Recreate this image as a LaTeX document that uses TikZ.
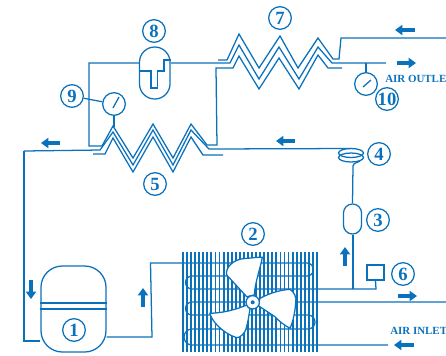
\documentclass[tikz,border=0pt]{standalone}
\usepackage{xcolor}
\usepackage{fontspec}
\setmainfont{Liberation Serif}
\usetikzlibrary{arrows.meta}
\definecolor{pipeblue}{RGB}{10,114,188}
\begin{document}
\begin{tikzpicture}[x=0.75pt, y=-0.75pt, line join=miter,
      pipe/.style={draw=pipeblue, line width=0.95pt},
      fin/.style={draw=pipeblue, line width=1.4pt},
      tag/.style={draw=pipeblue, line width=0.95pt, circle, inner sep=0pt, minimum size=17pt, text=pipeblue, font=\fontsize{14}{14}\selectfont\bfseries},
      dial/.style={draw=pipeblue, line width=0.95pt, circle, inner sep=0pt, minimum size=17pt},
      vessel/.style={draw=pipeblue, line width=0.95pt, rectangle, inner sep=0pt},
      flow/.style={pipeblue, line width=3pt, -{Triangle[length=5.5pt, width=7.5pt]}},
      airtext/.style={text=pipeblue, inner sep=0pt, anchor=west, font=\fontsize{8.2}{8.2}\selectfont\bfseries}]
    \useasboundingbox (0,0) rectangle (446,355);

    \foreach \i in {0,...,33} {
      \draw[fin] ({183+\i*4.06},252) -- ({183+\i*4.06},352);
    }
    \coordinate (coilin) at (183,263);
    \coordinate (tube6) at (353,289);
    \draw[pipe] (coilin) -- (307,263) arc[start angle=-90, end angle=90, radius=6.5] -- (192,276)
      arc[start angle=270, end angle=90, radius=6.5] -- (tube6);
    \draw[pipe] (446,302) -- (192,302) arc[start angle=270, end angle=90, radius=6.5] -- (308,315)
      arc[start angle=-90, end angle=90, radius=7] -- (192,329) arc[start angle=270, end angle=90, radius=8] -- (388,345);

    \draw[pipe, fill=white] (246.7,296.7) -- (226.7,275) .. controls (225,268) and (233,259) .. (245,258.5)
      .. controls (252,258) and (258,257) .. (262.3,257.3) .. controls (261,266) and (255,282) .. (254.3,295) -- cycle;
    \draw[pipe, fill=white] (260,298.3) .. controls (270,293) and (280,290) .. (290,289.3) .. controls (294,292) and (297,297) .. (295.7,303)
      .. controls (295,312) and (293,322) .. (290,328.3) .. controls (284,325) and (280,322) .. (275,316.7) -- (258.3,305.7) -- cycle;
    \draw[pipe, fill=white] (246.7,305) .. controls (235,310) and (222,313) .. (210,313.3) .. controls (211,320) and (222,333) .. (236.7,337.7)
      .. controls (240,338) and (245,333) .. (246,329) .. controls (248,322) and (249,315) .. (250,309) -- cycle;
    \node[dial, fill=white, minimum size=10pt] (hub) at (252.7,302.3) {};
    \fill[pipeblue] (hub.center) circle[radius=2];

    \node[vessel, minimum width=48.75pt, minimum height=64.5pt, rounded corners=16pt] (comp) at (73.5,309) {};
    \draw[pipe] (comp.west |- 0,303) -- (comp.east |- 0,303);
    \draw[pipe] (comp.west |- 0,309) -- (comp.east |- 0,309);
    \node[vessel, minimum width=22.9pt, minimum height=39pt, rounded corners=11.4pt] (drum) at (154.75,73) {};
    \draw[pipe] (drum.west |- 0,71) -- (151,71) -- (151,88) -- (157.5,88) -- (157.5,71) -- (164,71) -- (164,60) -- (drum.east |- 0,60);
    \node[vessel, minimum width=13.5pt, minimum height=22.5pt, rounded corners=6.7pt] (recv) at (352.5,219) {};
    \node[vessel, minimum width=12.75pt, minimum height=11.25pt] (switch) at (375.5,272.5) {};

    \node[dial] (gaugeL) at (114,104) {};
    \node[dial] (gaugeR) at (366,84) {};
    \draw[pipe] (113,108) -- (119,97);
    \draw[pipe] (363,87) -- (371,80);

    \draw[pipe] (351,153) ellipse[x radius=12.5, y radius=4.5];
    \draw[pipe] (351,157.5) ellipse[x radius=12.5, y radius=4.5];

    \draw[pipe] (gaugeL.south) -- (114,127);
    \draw[pipe] (gaugeR.north) -- (366,63);
    \draw[pipe] (tube6) -- (tube6 |- recv.south);
    \draw[pipe] (recv.north) -- (353,166) .. controls (353,163) and (358,162.5) .. (360,161);
    \draw[pipe] (tube6) -- (376,289) -- (switch.south);

    \draw[pipe] (drum.west |- 0,63) -- (89,63) -- (89,146) -- (102,146) -- (113,126) -- (133,158) -- (153,124) -- (173,158)
      -- (191,124) -- (207,145) -- (217,145) -- (216,68) -- (233,68) -- (239,56) -- (259,89) -- (279,58) -- (299,89) -- (318,55) -- (328,68) -- (342,68);
    \draw[pipe] (24,151) -- (100,150) -- (113,132) -- (133,165) -- (153,130) -- (173,165) -- (191,130) -- (209,149) -- (351,148.5);
    \draw[pipe] (93,154) -- (105,154) -- (113,138) -- (133,172) -- (153,137) -- (173,172) -- (191,137) -- (203,155) -- (223,155);
    \draw[pipe] (drum.east |- 0,63) -- (230,63) -- (239,45) -- (259,79) -- (279,47) -- (299,79) -- (318,47) -- (332,63) -- (386,63);
    \draw[pipe] (218,60) -- (227,60) -- (239,34) -- (259,68) -- (280,36) -- (298,68) -- (318,38) -- (333,59) -- (339,59) -- (341,38) -- (446,38);

    \draw[pipe] (24,151) -- (24,341) -- (comp.west |- 0,341);
    \draw[pipe] (comp.east |- 0,337) -- (152,337) -- (150.5,263) -- (coilin);

    \draw[flow] (60,143) -- (41,143);
    \draw[flow] (295,141) -- (276,141);
    \draw[flow] (415,30) -- (395,30);
    \draw[flow] (397,63) -- (416,63);
    \draw[flow] (31,280) -- (31,299);
    \draw[flow] (143,307) -- (143,288);
    \draw[flow] (345,266) -- (345,247);
    \draw[flow] (398,296) -- (417,296);
    \draw[flow] (414,345) -- (394,345);

    \node[tag] (n1) at (74,330) {1};
    \node[tag] (n2) at (253,234) {2};
    \node[tag] (n3) at (378,220) {3};
    \node[tag] (n4) at (379,154) {4};
    \node[tag] (n5) at (155,184) {5};
    \node[tag] (n6) at (403,274) {6};
    \node[tag] (n7) at (280,18) {7};
    \node[tag] (n8) at (154,31) {8};
    \node[tag] (n9) at (72,96) {9};
    \node[tag] (n10) at (387,99) {10};
    \draw[pipe] (n9) -- (gaugeL);

    \node[airtext] (airout) at (385,79) {AIR OUTLET};
    \node[airtext] (airin) at (390,331) {AIR INLET};
\end{tikzpicture}
\end{document}
